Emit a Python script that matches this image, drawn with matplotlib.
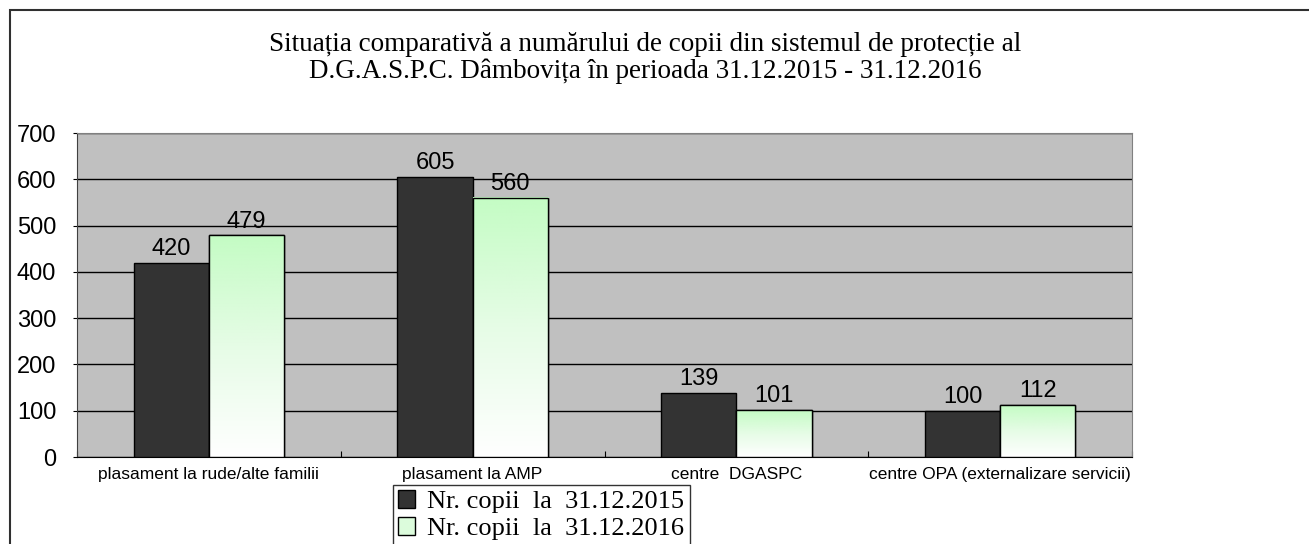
import matplotlib.pyplot as plt
import numpy as np
from matplotlib.patches import Rectangle
from matplotlib.colors import LinearSegmentedColormap

categories = ['plasament la rude/alte familii', 'plasament la AMP',
              'centre  DGASPC', 'centre OPA (externalizare servicii)']
values_2015 = [420, 605, 139, 100]
values_2016 = [479, 560, 101, 112]
series_labels = ['Nr. copii  la  31.12.2015', 'Nr. copii  la  31.12.2016']
yticks = [0, 100, 200, 300, 400, 500, 600, 700]
title = ('Situația comparativă a numărului de copii din sistemul de protecție al\n'
         'D.G.A.S.P.C. Dâmbovița în perioada 31.12.2015 - 31.12.2016')

W, H = 1309, 544
fig = plt.figure(figsize=(W / 100, H / 100), dpi=100)
fig.patch.set_facecolor('white')

# outer frame (only left and top visible, rest is cropped)
fig.patches.append(Rectangle((10 / W, -0.2), 1.5, 1.2 - 10 / H, transform=fig.transFigure,
                             fill=False, edgecolor='#303030', linewidth=1.5))

ax = fig.add_axes([77 / W, 1 - 457 / H, (1132 - 77) / W, (457 - 133) / H])
ax.set_facecolor('#c0c0c0')

x = np.arange(len(categories))
bw = 0.285
dark = ax.bar(x - bw / 2, values_2015, bw, color='#333333', edgecolor='black',
              linewidth=1, zorder=3, label=series_labels[0])
green = ax.bar(x + bw / 2, values_2016, bw, color='#c8fcc8', edgecolor='black',
               linewidth=1, zorder=3, label=series_labels[1])

# vertical gradient fill for the 2016 bars
cmap = LinearSegmentedColormap.from_list('g', ['#ffffff', '#e6fce6', '#c4fcc4'])
grad = np.linspace(0, 1, 256).reshape(-1, 1)
for p in green:
    ax.imshow(grad, cmap=cmap, aspect='auto', origin='lower', zorder=3.5,
              extent=(p.get_x(), p.get_x() + p.get_width(), 0, p.get_height()))
    ax.add_patch(Rectangle((p.get_x(), 0), p.get_width(), p.get_height(), fill=False,
                           edgecolor='black', linewidth=1, zorder=4))

for bars in (dark, green):
    for p in bars:
        ax.text(p.get_x() + p.get_width() / 2, p.get_height() + 6, f'{int(p.get_height())}',
                ha='center', va='bottom', fontsize=17, family='Liberation Sans', zorder=5)

ax.set_xlim(-0.5, len(categories) - 0.5)
ax.set_ylim(0, 700)
ax.set_yticks(yticks)
ax.set_yticklabels([str(v) for v in yticks], fontsize=17, family='Liberation Sans')
ax.yaxis.grid(True, color='black', linewidth=1, zorder=1)
ax.set_axisbelow(True)
ax.tick_params(axis='y', length=3, pad=12)

ax.set_xticks(np.arange(len(categories) + 1) - 0.5)
ax.set_xticklabels([])
ax.tick_params(axis='x', which='major', direction='in', length=4)
ax.set_xticks(x, minor=True)
ax.set_xticklabels(categories, minor=True, fontsize=12.5, family='Liberation Sans')
ax.tick_params(axis='x', which='minor', length=0, pad=7)

for side in ('top', 'right'):
    ax.spines[side].set_color('#808080')
ax.spines['left'].set_color('#404040')
ax.spines['bottom'].set_color('black')

fig.text(645 / W, 1 - 58 / H, title, ha='center', va='center',
         fontsize=19.5, family='Liberation Serif', linespacing=1.05)

leg = fig.legend(handles=[dark, green], labels=series_labels, loc='upper left',
                 bbox_to_anchor=(393 / W, 1 - 485 / H), bbox_transform=fig.transFigure,
                 prop={'family': 'Liberation Serif', 'size': 19}, fancybox=False,
                 edgecolor='black', handlelength=0.65, handleheight=0.65, handletextpad=0.45,
                 borderpad=0.2, labelspacing=0.15, borderaxespad=0)
leg.get_frame().set_linewidth(1)
# legend handle for 2016 gets a light green fill
leg.legend_handles[1].set_facecolor('#dcfcdc')

fig.savefig('out.png', dpi=100)
